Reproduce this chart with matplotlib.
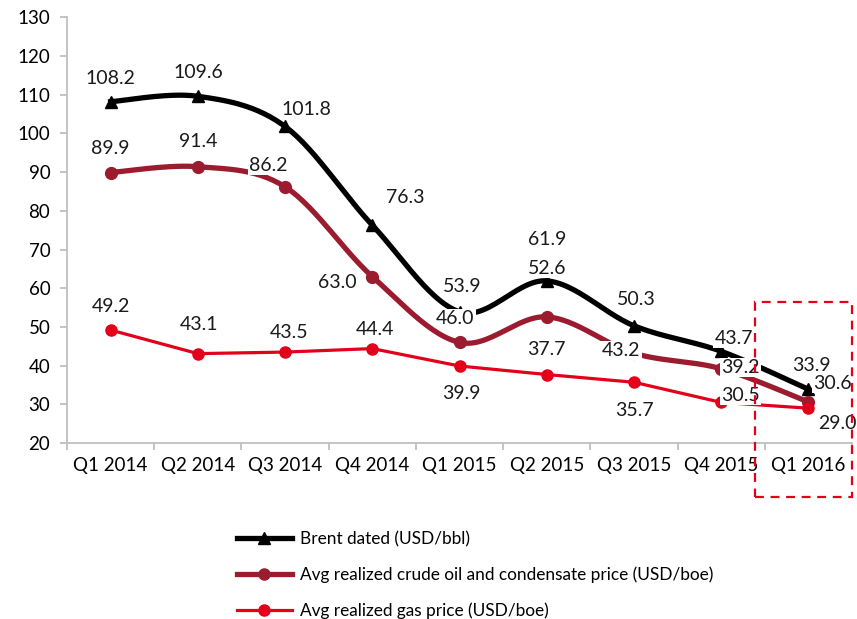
import matplotlib.pyplot as plt
import numpy as np
from matplotlib.patches import Rectangle

plt.rcParams['font.family'] = ['Lato', 'DejaVu Sans']

quarters = ['Q1 2014', 'Q2 2014', 'Q3 2014', 'Q4 2014', 'Q1 2015',
            'Q2 2015', 'Q3 2015', 'Q4 2015', 'Q1 2016']
brent = [108.2, 109.6, 101.8, 76.3, 53.9, 61.9, 50.3, 43.7, 33.9]
crude = [89.9, 91.4, 86.2, 63.0, 46.0, 52.6, 43.2, 39.2, 30.6]
gas = [49.2, 43.1, 43.5, 44.4, 39.9, 37.7, 35.7, 30.5, 29.0]

labels = ['Brent dated (USD/bbl)',
          'Avg realized crude oil and condensate price (USD/boe)',
          'Avg realized gas price (USD/boe)']


def smooth(y, n=30):
    # Excel-style smoothed line (Catmull-Rom as cubic Bezier)
    x = np.arange(len(y), dtype=float)
    p = np.column_stack([x, np.asarray(y, dtype=float)])
    pts = [p[0]]
    t = np.linspace(0, 1, n)[1:, None]
    for i in range(len(p) - 1):
        p0 = p[max(i - 1, 0)]
        p3 = p[min(i + 2, len(p) - 1)]
        c1 = p[i] + (p[i + 1] - p0) / 6
        c2 = p[i + 1] - (p3 - p[i]) / 6
        seg = ((1 - t) ** 3 * p[i] + 3 * (1 - t) ** 2 * t * c1
               + 3 * (1 - t) * t ** 2 * c2 + t ** 3 * p[i + 1])
        pts.extend(seg)
    pts = np.array(pts)
    return pts[:, 0], pts[:, 1]


fig = plt.figure(figsize=(8.57, 6.19), dpi=100)
ax = fig.add_axes([0.0782, 0.2843, 0.916, 0.6877])

x = np.arange(len(quarters))
c_black, c_dark, c_red = '#000000', '#9B1B2F', '#E2001A'

sx, sy = smooth(brent)
ax.plot(sx, sy, color=c_black, lw=3.8, zorder=3)
ax.plot(x, brent, '^', color=c_black, ms=9, zorder=4)
sx, sy = smooth(crude)
ax.plot(sx, sy, color=c_dark, lw=3.8, zorder=3)
ax.plot(x, crude, 'o', color=c_dark, ms=8.5, zorder=4)
ax.plot(x, gas, color=c_red, lw=2.3, zorder=3)
ax.plot(x, gas, 'o', color=c_red, ms=8, zorder=4)

# label offsets in points (dx, dy)
off_b = [(0, 17), (0, 17), (15, 12), (24, 20), (2, 18), (0, 30), (2, 19), (9, 9), (2, 17)]
off_c = [(0, 17), (0, 18), (-12, 15), (-25, -4), (-3, 17), (0, 35), (-9, 2), (14, 1), (17, 13)]
off_g = [(0, 17), (1, 21), (3, 14), (2, 14), (1, -20), (0, 18), (0, -20), (14, 5), (21, -11)]
for vals, offs in [(brent, off_b), (crude, off_c), (gas, off_g)]:
    for xi, v, (dx, dy) in zip(x, vals, offs):
        ax.annotate(f'{v:.1f}', (xi, v), textcoords='offset points', xytext=(dx, dy),
                    ha='center', va='center', fontsize=14, color='#1a1a1a', zorder=5,
                    bbox=dict(boxstyle='square,pad=0.05', fc='white', ec='none'))

ax.set_xlim(-0.5, len(quarters) - 0.5)
ax.set_ylim(20, 130)
ax.set_yticks(np.arange(20, 131, 10))
ax.set_xticks(x)
ax.set_xticklabels(quarters)
ax.set_xticks(np.arange(-0.5, len(quarters), 1), minor=True)
ax.tick_params(axis='x', which='major', length=0, pad=10, labelsize=13.5)
ax.tick_params(axis='x', which='minor', length=5, color='#BFBFBF', width=1.3)
ax.tick_params(axis='y', length=5, color='#BFBFBF', width=1.3, labelsize=13.5, pad=7)
for s in ['top', 'right']:
    ax.spines[s].set_visible(False)
for s in ['left', 'bottom']:
    ax.spines[s].set_color('#BFBFBF')
    ax.spines[s].set_linewidth(1.3)

# legend
h1, = ax.plot([], [], color=c_black, lw=3.8, marker='^', ms=8)
h2, = ax.plot([], [], color=c_dark, lw=3.8, marker='o', ms=8)
h3, = ax.plot([], [], color=c_red, lw=2.3, marker='o', ms=8)
fig.legend([h1, h2, h3], labels, loc='upper left', bbox_to_anchor=(0.268, 0.153),
           frameon=False, fontsize=12.4, handlelength=3.2, labelspacing=1.12,
           handletextpad=0.47, borderaxespad=0)

# dashed highlight box
fig.add_artist(Rectangle((755 / 857, 1 - 497 / 619), 97 / 857, 195 / 619,
                         transform=fig.transFigure, fill=False, ec='#E2001A',
                         ls=(0, (4, 3)), lw=1.6, zorder=10))

fig.savefig('out.png', dpi=100)
